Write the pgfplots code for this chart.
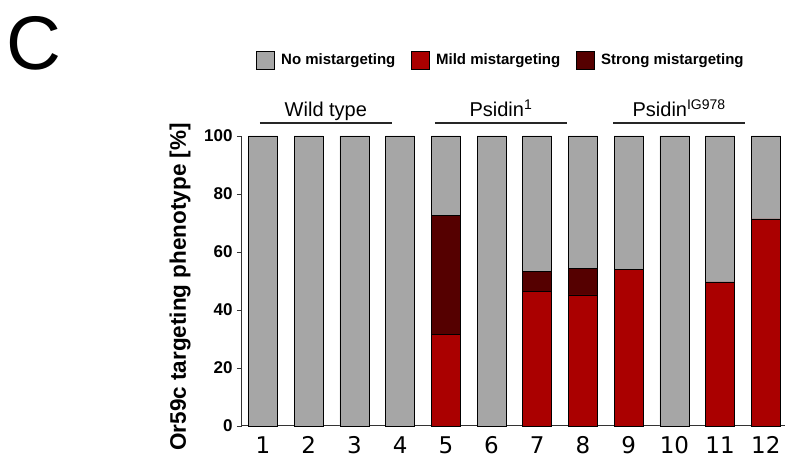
\documentclass[border=0pt]{standalone}
\usepackage{pgfplots}
\pgfplotsset{compat=1.18}
\usepackage{fontspec}
\setmainfont{Liberation Sans}
\newfontfamily\dv{DejaVu Sans}
\definecolor{cgray}{HTML}{A6A6A6}
\definecolor{cred}{HTML}{AA0000}
\definecolor{cdark}{HTML}{550000}
\begin{document}
\begin{tikzpicture}
\begin{axis}[
  scale only axis, width=543pt, height=290pt,
  xmin=0.54, xmax=12.42, ymin=0, ymax=100,
  axis x line=bottom, axis y line=left,
  axis line style={-, line width=1pt, black!80},
  clip=false,
  ybar stacked, bar width=29pt,
  xtick={1,...,12},
  major x tick style={draw=none},
  ytick={0,20,...,100},
  tick align=outside, major tick length=5pt,
  ytick style={line width=0.8pt, black!80},
  /pgf/number format/assume math mode=true,
  yticklabel style={font=\fontsize{17}{20}\selectfont\bfseries, xshift=-1pt},
  xticklabel style={font=\dv\fontsize{23}{26}\selectfont, yshift=-2pt},
  ylabel={Or59c targeting phenotype [\%]},
  ylabel style={font=\bfseries\fontsize{22.5}{26}\selectfont, at={(-0.114,0.48)}, anchor=center},
  legend columns=3,
  legend style={at={(0.477,1.262)}, anchor=center, draw=none, fill=none,
    font=\bfseries\fontsize{15}{18}\selectfont,
    /tikz/every odd column/.append style={column sep=4pt},
    /tikz/every even column/.append style={column sep=14pt},
    cells={anchor=west}},
  legend image code/.code={\draw[#1, draw=black, line width=0.8pt] (0pt,-9pt) rectangle (18pt,9pt);},
]
\addplot[fill=cred, draw=black, line width=0.7pt, forget plot] coordinates {(1,0) (2,0) (3,0) (4,0) (5,31.6) (6,0) (7,46.3) (8,45.2) (9,53.9) (10,0) (11,49.7) (12,71.4)};
\addplot[fill=cdark, draw=black, line width=0.7pt, forget plot] coordinates {(1,0) (2,0) (3,0) (4,0) (5,41.0) (6,0) (7,6.9) (8,9.2) (9,0) (10,0) (11,0) (12,0)};
\addplot[fill=cgray, draw=black, line width=0.7pt, forget plot] coordinates {(1,100) (2,100) (3,100) (4,100) (5,27.4) (6,100) (7,46.8) (8,45.6) (9,46.1) (10,100) (11,50.3) (12,28.6)};
\addlegendimage{fill=cgray}
\addlegendentry{No mistargeting}
\addlegendimage{fill=cred}
\addlegendentry{Mild mistargeting}
\addlegendimage{fill=cdark}
\addlegendentry{Strong mistargeting}
\coordinate (SW) at (rel axis cs:0,0);
\coordinate (NE) at (rel axis cs:1,1);
\draw[line width=1.5pt, black!85] (axis cs:0.93,104.5) -- (axis cs:3.82,104.5);
\draw[line width=1.5pt, black!85] (axis cs:4.76,104.5) -- (axis cs:7.65,104.5);
\draw[line width=1.5pt, black!85] (axis cs:8.66,104.5) -- (axis cs:11.55,104.5);
\node[anchor=base, font=\fontsize{20}{24}\selectfont, inner sep=0] at (axis cs:2.375,106.6) {Wild type};
\node[anchor=base, font=\fontsize{20}{24}\selectfont, inner sep=0] at (axis cs:6.205,106.6) {Psidin\textsuperscript{1}};
\node[anchor=base, font=\fontsize{20}{24}\selectfont, inner sep=0] at (axis cs:10.105,106.6) {Psidin\textsuperscript{IG978}};
\end{axis}
\node[anchor=base west, inner sep=0, font=\fontsize{76}{80}\selectfont] at ([xshift=-236pt,yshift=356pt]SW) {C};
\pgfresetboundingbox
\path ([xshift=-242pt,yshift=-33pt]SW) rectangle ([yshift=136pt]NE);
\end{tikzpicture}
\end{document}
